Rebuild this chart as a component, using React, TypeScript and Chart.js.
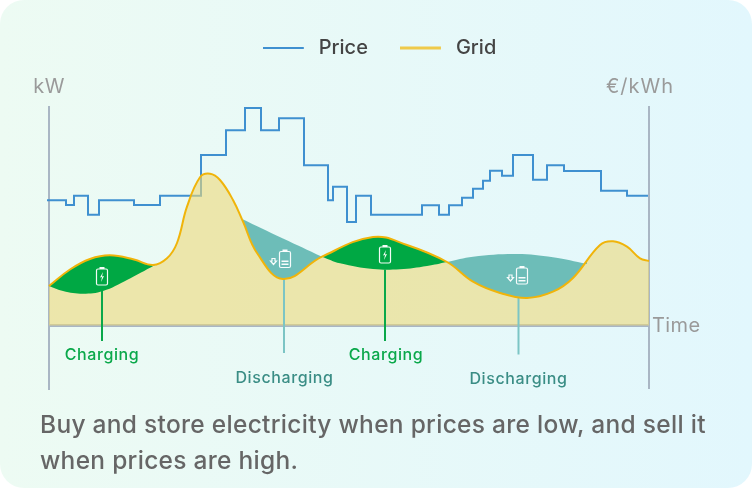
import React, { useEffect, useRef } from "react";
import { Chart, registerables } from "chart.js";

Chart.register(...registerables);

const FONT = "Inter";

const priceTimes = [-2, 17, 25, 39, 50, 85, 111, 152, 177, 196, 212, 230, 255, 279, 284, 298, 307, 322, 373, 390, 400, 413, 424, 434, 441, 453, 464, 484, 498, 515, 552, 578, 599];
const priceValues = [125.2, 120.5, 129.8, 110.8, 125.2, 120.5, 129.8, 170.5, 195.2, 217.5, 195.2, 207.2, 160.2, 125.2, 138.8, 103.5, 129.8, 110.8, 120.2, 110.8, 120.2, 127.8, 136.8, 144.8, 154.8, 149.8, 170.5, 145.8, 160.2, 154.5, 134.8, 129.8, 129.8];

const gridTimes = [0, 21, 41, 61, 85, 104, 118, 128, 138, 151, 161, 171, 184, 194, 208, 234, 273, 324, 358, 398, 424, 451, 478, 504, 524, 551, 564, 578, 591, 600];
const gridValues = [39.5, 56, 66.5, 70.2, 66, 60.5, 67.2, 82.5, 118.8, 148.2, 151.8, 145.5, 125.5, 103.8, 72.5, 46.5, 68.8, 88.5, 80.5, 63.5, 43.8, 32.5, 27.5, 33.8, 47.5, 80.5, 84.2, 78.8, 67.2, 64.5];

const charge1Times = [0, 14, 34, 54, 78, 106];
const charge1Values = [39.5, 34.5, 31.8, 34.5, 45.5, 60.5];
const discharge1Times = [192, 234, 273];
const discharge1Values = [107, 87, 68.8];
const charge2Times = [273, 291, 324, 351, 378, 398];
const charge2Values = [68.8, 62.2, 56.5, 56.2, 59.5, 63.5];
const discharge2Times = [398, 424, 468, 504, 538];
const discharge2Values = [63.5, 68.8, 71.5, 68.2, 61.5];

const leaderTimes = [53, 235, 336, 469.5];
const leaderTops = [34.5, 46.5, 56, 29];
const leaderBottoms = [-15.5, -27.5, -15.5, -29];
const noteLabels = ["Charging", "Discharging", "Charging", "Discharging"];
const noteTimes = [53, 235.5, 337, 469.5];
const noteValues = [-30, -53, -30, -54];

const iconTimes = [53, 336, 236, 473];
const iconValues = [49.5, 71.5, 67, 50.5];
const iconKinds = ["charge", "charge", "discharge", "discharge"];

const GREEN = "#00a844";
const TEAL = "#6dbdb8";
const AXIS = "#a9b6c4";

const pts = (xs: number[], ys: number[]) => xs.map((x, i) => ({ x, y: ys[i] }));

const swatch = (color: string, h: number) => {
  const c = document.createElement("canvas");
  c.width = 46;
  c.height = 6;
  const g = c.getContext("2d")!;
  g.fillStyle = color;
  g.fillRect(0, 3 - h / 2, 41, h);
  return c;
};

const drawIcon = (ctx: CanvasRenderingContext2D, cx: number, cy: number, kind: string) => {
  ctx.save();
  ctx.strokeStyle = "rgba(255,255,255,0.95)";
  ctx.fillStyle = "rgba(255,255,255,0.95)";
  ctx.lineWidth = 1.2;
  ctx.beginPath();
  ctx.roundRect(cx - 5.5, cy - 7, 11, 16, 1.5);
  ctx.stroke();
  ctx.fillRect(cx - 2.5, cy - 9, 5, 2);
  if (kind === "charge") {
    ctx.beginPath();
    ctx.moveTo(cx + 1, cy - 4);
    ctx.lineTo(cx - 2, cy + 1.5);
    ctx.lineTo(cx, cy + 1);
    ctx.lineTo(cx - 1, cy + 6);
    ctx.lineTo(cx + 2, cy);
    ctx.lineTo(cx, cy + 0.5);
    ctx.closePath();
    ctx.fill();
  } else {
    ctx.fillRect(cx - 3.5, cy + 2, 7, 1.5);
    ctx.fillRect(cx - 3.5, cy + 5, 7, 1.5);
    ctx.beginPath();
    const ax = cx - 11.5;
    const ay = cy + 3;
    ctx.moveTo(ax - 1.5, ay - 3);
    ctx.lineTo(ax + 1.5, ay - 3);
    ctx.lineTo(ax + 1.5, ay - 0.5);
    ctx.lineTo(ax + 3, ay - 0.5);
    ctx.lineTo(ax, ay + 3);
    ctx.lineTo(ax - 3, ay - 0.5);
    ctx.lineTo(ax - 1.5, ay - 0.5);
    ctx.closePath();
    ctx.stroke();
  }
  ctx.restore();
};

const annotations = {
  id: "annotations",
  afterDatasetsDraw(chart: any) {
    const { ctx, chartArea, scales } = chart;
    const x = scales.x;
    const y = scales.y;
    iconTimes.forEach((t, i) => drawIcon(ctx, x.getPixelForValue(t), y.getPixelForValue(iconValues[i]), iconKinds[i]));
    ctx.save();
    ctx.textBaseline = "middle";
    ctx.textAlign = "center";
    ctx.font = `500 16px ${FONT}`;
    ctx.letterSpacing = "0.6px";
    noteLabels.forEach((label, i) => {
      ctx.fillStyle = i % 2 === 0 ? "#0aa84a" : "#3a8d85";
      ctx.fillText(label, x.getPixelForValue(noteTimes[i]), y.getPixelForValue(noteValues[i]));
    });
    ctx.fillStyle = "#9a9a9a";
    ctx.font = `400 20px ${FONT}`;
    ctx.letterSpacing = "0.5px";
    ctx.fillText("kW", chartArea.left, 87);
    ctx.letterSpacing = "1px";
    ctx.fillText("€/kWh", chartArea.right - 9, 87);
    ctx.textAlign = "left";
    ctx.letterSpacing = "0.4px";
    ctx.fillText("Time", chartArea.right + 3, y.getPixelForValue(0));
    ctx.restore();
  },
};

export default function App() {
  const ref = useRef<HTMLCanvasElement>(null);
  useEffect(() => {
    const line = (extra: any) => ({ type: "line", pointRadius: 0, clip: false, ...extra });
    const region = (label: string, xs: number[], ys: number[], color: string, order: number) =>
      line({
        label,
        data: pts(xs, ys),
        borderWidth: 0,
        backgroundColor: color,
        tension: 0.4,
        fill: { target: 2 },
        order,
      });
    const leaders = leaderTimes.map((t, i) =>
      line({
        label: `leader${i}`,
        data: [{ x: t, y: leaderTops[i] }, { x: t, y: leaderBottoms[i] }],
        borderColor: i % 2 === 0 ? "#0aa84a" : "#7cc5c5",
        borderWidth: 2,
        order: 3,
      })
    );
    const chart = new Chart(ref.current!, {
      type: "line",
      data: {
        datasets: [
          line({
            label: "Price",
            data: pts(priceTimes, priceValues),
            stepped: true,
            borderColor: "#3f90d0",
            borderWidth: 2,
            order: 20,
          }),
          line({
            label: "Grid area",
            data: pts(gridTimes, gridValues),
            tension: 0.4,
            borderWidth: 0,
            backgroundColor: "rgba(237,216,121,0.6)",
            fill: "origin",
            order: 19,
          }),
          line({
            label: "Grid",
            data: pts(gridTimes, gridValues),
            tension: 0.4,
            borderColor: "#f0b40a",
            borderWidth: 2,
            order: 1,
          }),
          region("Charging 1", charge1Times, charge1Values, GREEN, 10),
          region("Discharging 1", discharge1Times, discharge1Values, TEAL, 9),
          region("Charging 2", charge2Times, charge2Values, GREEN, 8),
          region("Discharging 2", discharge2Times, discharge2Values, TEAL, 7),
          ...leaders,
        ] as any,
      },
      plugins: [annotations],
      options: {
        animation: false,
        responsive: false,
        layout: { padding: { left: 7, right: 0, top: 6, bottom: 100 } },
        plugins: {
          tooltip: { enabled: false },
          legend: {
            position: "top",
            labels: {
              usePointStyle: true,
              pointStyleWidth: 46,
              boxHeight: 6,
              padding: 32,
              color: "#444444",
              font: { family: FONT, size: 20, weight: "500" },
              generateLabels: () => [
                { text: "Price", pointStyle: swatch("#3f90d0", 2), datasetIndex: 0, lineWidth: 0, fontColor: "#444444" },
                { text: "Grid", pointStyle: swatch("#efca4a", 3), datasetIndex: 2, lineWidth: 0, fontColor: "#444444" },
              ],
            },
          },
        },
        scales: {
          x: {
            type: "linear",
            position: "top",
            min: 0,
            max: 600,
            ticks: { display: false },
            grid: { display: false },
            border: { display: false },
            afterFit: (s: any) => { s.height = 39; },
          },
          y: {
            position: "left",
            min: -62.5,
            max: 218.5,
            ticks: { display: false, stepSize: 100 },
            grid: {
              drawTicks: false,
              lineWidth: 3,
              color: (c: any) => (c.tick && c.tick.value === 0 ? AXIS : "transparent"),
            },
            border: { display: true, color: AXIS, width: 2 },
            afterFit: (s: any) => { s.width = 42; },
          },
          y2: {
            position: "right",
            min: -62.5,
            max: 218.5,
            ticks: { display: false },
            grid: { display: false, drawTicks: false },
            border: { display: true, color: AXIS, width: 2 },
            afterFit: (s: any) => { s.width = 103; },
          },
        },
      } as any,
    });
    return () => chart.destroy();
  }, []);

  return (
    <div
      style={{
        position: "fixed",
        left: 0,
        top: 0,
        width: 752,
        height: 488,
        borderRadius: 24,
        overflow: "hidden",
        background: "linear-gradient(90deg, #edfbf3 0%, #e2f7fd 100%)",
      }}
    >
      <canvas ref={ref} width={752} height={488} style={{ position: "absolute", left: 0, top: 0 }} />
      <div
        style={{
          position: "absolute",
          left: 40,
          top: 406,
          width: 700,
          font: `500 24.5px/36px ${FONT}`,
          letterSpacing: "0.29px",
          color: "#666666",
          whiteSpace: "nowrap",
        }}
      >
        Buy and store electricity when prices are low, and sell it
        <br />
        when prices are high.
      </div>
    </div>
  );
}
